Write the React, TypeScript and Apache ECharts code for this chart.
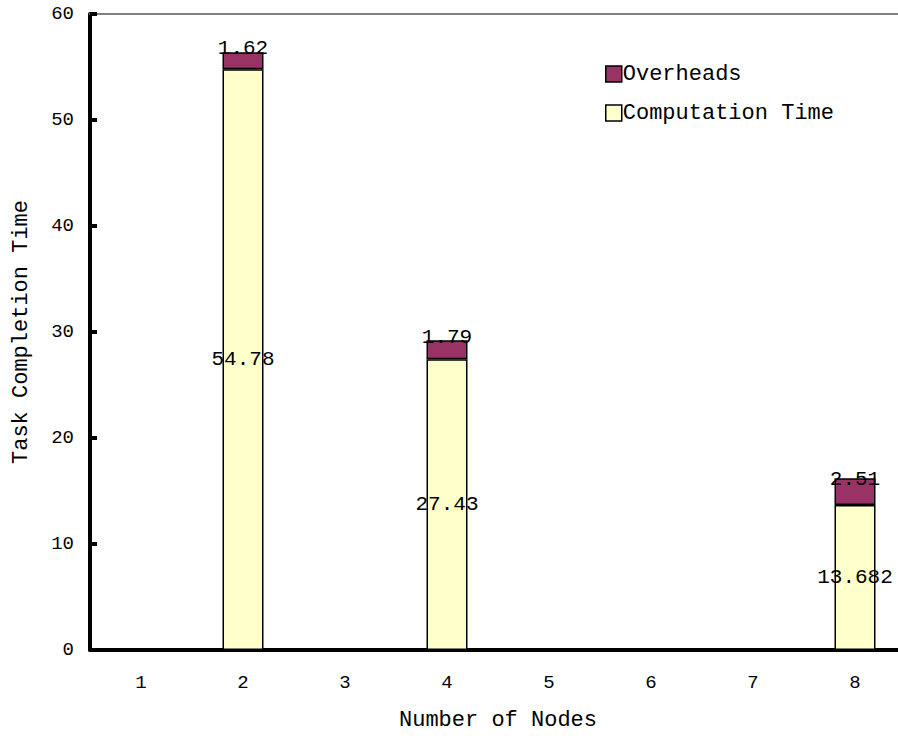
import React, { useEffect, useRef } from "react";
import * as echarts from "echarts";

const nodeCounts = ["1", "2", "3", "4", "5", "6", "7", "8"];
const computationTime = [null, 54.78, null, 27.43, null, null, null, 13.682];
const overheads = [null, 1.62, null, 1.79, null, null, null, 2.51];
const yTicks = { min: 0, max: 60, interval: 10 };

const FONT = "Liberation Mono";

export default function App() {
  const ref = useRef<HTMLDivElement>(null);

  useEffect(() => {
    if (!ref.current) return;
    const chart = echarts.init(ref.current, null, { renderer: "svg" });
    chart.setOption({
      animation: false,
      backgroundColor: "#ffffff",
      textStyle: { fontFamily: FONT, color: "#000" },
      // plot area runs slightly past the right edge of the page
      grid: { left: 90, right: 0, top: 14, bottom: 83 },
      legend: {
        orient: "vertical",
        left: 600,
        top: 58,
        icon: "rect",
        itemWidth: 16,
        itemHeight: 16,
        itemGap: 17,
        itemStyle: { borderColor: "#000", borderWidth: 1.5 },
        textStyle: { fontFamily: FONT, fontSize: 22, color: "#000", padding: [0, 0, 0, -4] },
        data: ["Overheads", "Computation Time"],
      },
      xAxis: [
        {
          type: "category",
          data: nodeCounts,
          name: "Number of Nodes",
          nameLocation: "middle",
          nameGap: 59,
          nameTextStyle: { fontFamily: FONT, fontSize: 22, color: "#000" },
          axisLine: { lineStyle: { color: "#000", width: 4 } },
          axisTick: { inside: true, length: 7, lineStyle: { color: "#000", width: 3 } },
          axisLabel: { fontFamily: FONT, fontSize: 19, color: "#000", margin: 23 },
        },
        {
          type: "category",
          data: nodeCounts,
          position: "top",
          axisLine: { lineStyle: { color: "#808080", width: 2 } },
          axisTick: { show: false },
          axisLabel: { show: false },
        },
      ],
      yAxis: {
        type: "value",
        min: yTicks.min,
        max: yTicks.max,
        interval: yTicks.interval,
        name: "Task Completion Time",
        nameLocation: "middle",
        nameGap: 58,
        nameTextStyle: { fontFamily: FONT, fontSize: 22, color: "#000" },
        axisLine: { show: true, lineStyle: { color: "#000", width: 4 } },
        axisTick: { show: true, inside: true, length: 7, lineStyle: { color: "#000", width: 4 } },
        axisLabel: { fontFamily: FONT, fontSize: 19, color: "#000", margin: 16 },
        splitLine: { show: false },
      },
      series: [
        {
          name: "Computation Time",
          type: "bar",
          stack: "total",
          barWidth: 41,
          data: computationTime,
          itemStyle: { color: "#FFFFCC", borderColor: "#000", borderWidth: 1.5 },
          label: {
            show: true,
            position: "inside",
            fontFamily: FONT,
            fontSize: 21,
            color: "#000",
            formatter: (p: any) => String(p.value),
          },
        },
        {
          name: "Overheads",
          type: "bar",
          stack: "total",
          barWidth: 41,
          data: overheads,
          itemStyle: { color: "#993366", borderColor: "#000", borderWidth: 1.5 },
          label: {
            show: true,
            position: "inside",
            offset: [0, -12],
            fontFamily: FONT,
            fontSize: 21,
            color: "#000",
            formatter: (p: any) => String(p.value),
          },
        },
      ],
    });
    return () => chart.dispose();
  }, []);

  return (
    <div style={{ position: "fixed", left: 0, top: 0, width: 898, height: 736, overflow: "hidden" }}>
      <div ref={ref} style={{ width: 906, height: 736 }} />
    </div>
  );
}
